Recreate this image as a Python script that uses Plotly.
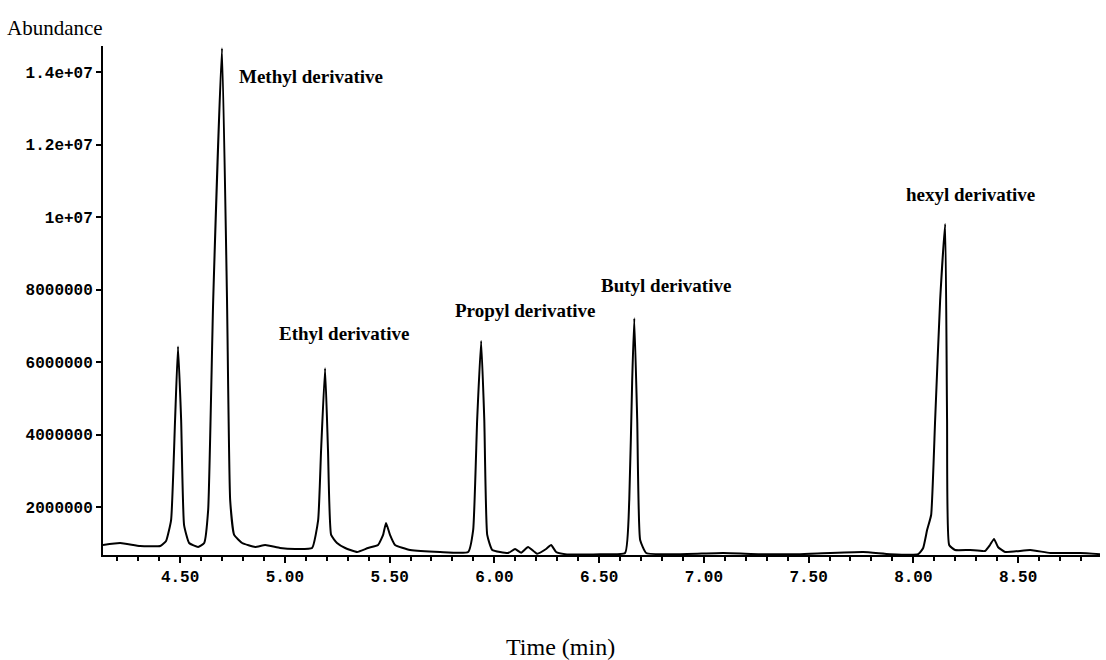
import plotly.graph_objects as go

# Chromatogram trace vertices (time in min, abundance)
time_min = [4.132, 4.214, 4.309, 4.405, 4.433, 4.457, 4.476, 4.490, 4.505, 4.519,
            4.543, 4.586, 4.615, 4.634, 4.658, 4.700, 4.724, 4.739, 4.758, 4.796,
            4.858, 4.906, 4.977, 5.049, 5.130, 5.159, 5.173, 5.192, 5.206, 5.221,
            5.249, 5.288, 5.345, 5.397, 5.445, 5.469, 5.483, 5.502, 5.526, 5.598,
            5.741, 5.875, 5.899, 5.918, 5.937, 5.952, 5.966, 5.990, 6.066, 6.099,
            6.128, 6.161, 6.204, 6.247, 6.271, 6.295, 6.338, 6.505, 6.624, 6.644,
            6.658, 6.668, 6.682, 6.696, 6.725, 6.887, 7.092, 7.268, 7.459, 7.760,
            7.889, 8.023, 8.047, 8.066, 8.085, 8.104, 8.128, 8.152, 8.161, 8.171,
            8.199, 8.271, 8.342, 8.366, 8.385, 8.404, 8.438, 8.558, 8.654, 8.796,
            8.891]
abundance = [952000, 1007000, 924000, 924000, 1062000, 1640000, 4400000, 6430000, 4400000, 1500000,
             1007000, 897000, 1007000, 1920000, 7710000, 14660000, 7710000, 2190000, 1230000, 1007000,
             897000, 952000, 869000, 841000, 869000, 1640000, 3570000, 5830000, 3570000, 1230000,
             1007000, 869000, 759000, 869000, 952000, 1230000, 1560000, 1230000, 952000, 814000,
             759000, 759000, 1370000, 4400000, 6580000, 4400000, 1230000, 814000, 731000, 841000,
             740000, 897000, 710000, 841000, 952000, 759000, 700000, 700000, 731000, 2190000,
             5500000, 7210000, 4400000, 1090000, 731000, 700000, 731000, 700000, 700000, 759000,
             700000, 700000, 869000, 1370000, 1780000, 4400000, 7710000, 9810000, 4400000, 952000,
             814000, 814000, 786000, 952000, 1120000, 897000, 759000, 814000, 731000, 731000,
             700000]

# Peak labels
label_text = ["Methyl derivative", "Ethyl derivative", "Propyl derivative",
              "Butyl derivative", "hexyl derivative"]
label_time = [4.772, 4.963, 5.803, 6.500, 7.956]
label_abundance = [13890000, 6800000, 7430000, 8120000, 10610000]

# Axis ticks
x_tickvals = [4.5, 5.0, 5.5, 6.0, 6.5, 7.0, 7.5, 8.0, 8.5]
x_ticktext = ["4.50", "5.00", "5.50", "6.00", "6.50", "7.00", "7.50", "8.00", "8.50"]
y_tickvals = [2000000, 4000000, 6000000, 8000000, 10000000, 12000000, 14000000]
y_ticktext = ["2000000", "4000000", "6000000", "8000000", "1e+07", "1.2e+07", "1.4e+07"]

ML, MR, MT, MB = 103, 6, 46, 105
W, H = 1106, 660
plot_w = W - ML - MR
plot_h = H - MT - MB

fig = go.Figure()
fig.add_trace(go.Scatter(x=time_min, y=abundance, mode="lines",
                         line=dict(color="black", width=2, shape="spline", smoothing=0.4),
                         hoverinfo="skip", showlegend=False))

anns = []
for txt, t, a in zip(label_text, label_time, label_abundance):
    anns.append(dict(x=t, y=a, text=txt, showarrow=False, xanchor="left", yanchor="middle",
                     font=dict(family="Liberation Serif", size=19, color="black", weight="bold")))
anns.append(dict(x=(5 - ML) / plot_w, y=(H - MB - 28) / plot_h, xref="paper", yref="paper",
                 text="Abundance", showarrow=False, xanchor="left", yanchor="middle",
                 font=dict(family="Liberation Serif", size=21, color="black")))
anns.append(dict(x=(560 - ML) / plot_w, y=(H - MB - 647) / plot_h, xref="paper", yref="paper",
                 text="Time (min)", showarrow=False, xanchor="center", yanchor="middle",
                 font=dict(family="Liberation Serif", size=24, color="black")))

fig.update_layout(
    width=W, height=H,
    margin=dict(l=ML, r=MR, t=MT, b=MB),
    paper_bgcolor="white", plot_bgcolor="white",
    annotations=anns,
    xaxis=dict(range=[4.132, 8.891], showgrid=False, zeroline=False,
               showline=True, linecolor="black", linewidth=2,
               tickvals=x_tickvals, ticktext=x_ticktext, ticks="outside",
               ticklen=6, tickwidth=1.5, tickcolor="black",
               tickfont=dict(family="Liberation Mono", size=16, color="black", weight="bold"),
               minor=dict(dtick=0.1, tick0=4.5, ticks="outside", ticklen=4,
                          tickcolor="black", tickwidth=1.5)),
    yaxis=dict(range=[676000, 14720000], showgrid=False, zeroline=False,
               showline=True, linecolor="black", linewidth=2,
               tickvals=y_tickvals, ticktext=y_ticktext, ticks="outside",
               ticklen=5, tickwidth=1.5, tickcolor="black",
               tickfont=dict(family="Liberation Mono", size=16, color="black", weight="bold")),
)

fig.write_html("out.html")
